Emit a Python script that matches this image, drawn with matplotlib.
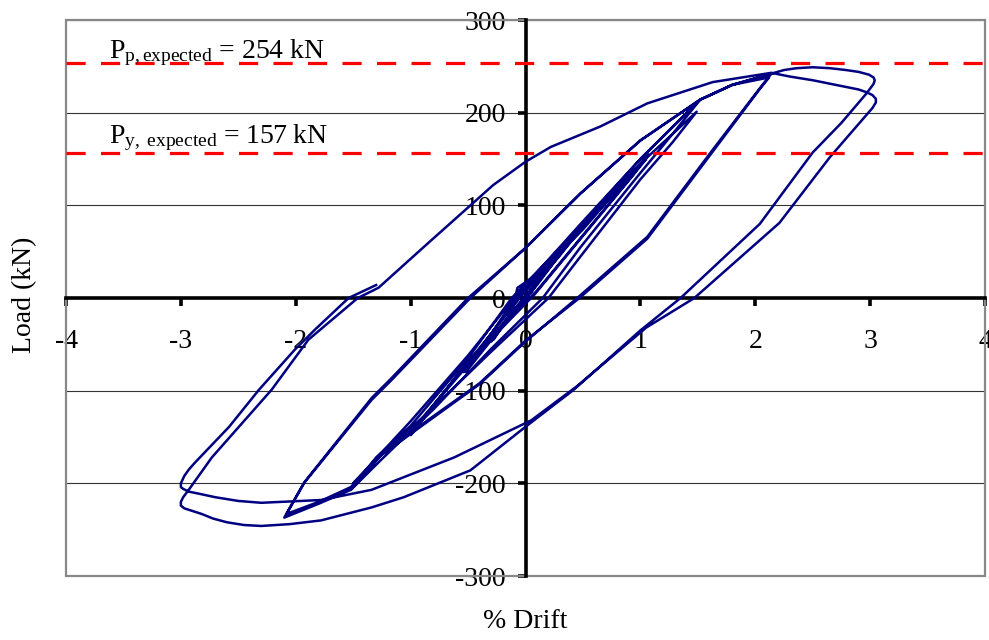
import numpy as np
import matplotlib
matplotlib.use("Agg")
import matplotlib.pyplot as plt
from matplotlib.patches import Rectangle

plt.rcParams['font.family'] = ['Liberation Serif', 'DejaVu Serif']
plt.rcParams['mathtext.fontset'] = 'custom'
plt.rcParams['mathtext.rm'] = 'Liberation Serif'
plt.rcParams['mathtext.it'] = 'Liberation Serif:italic'

# ---- data (drift in %, load in kN) ----
small_drift = [0, 0.12, 0.28, 0.22, 0.05, -0.08, -0.28, -0.22, -0.02, 0.1, 0.27, 0.2, -0.07,
               -0.12, -0.3, -0.2, 0.0, 0.3, 0.55, 0.45, 0.1, -0.2, -0.54, -0.45, -0.05, 0.3,
               0.55, 0.45, 0.05, -0.25, -0.52]
small_load = [0, 20, 50, 38, 6, -10, -45, -33, -2, 16, 47, 34, 11,
              -15, -47, -30, 0, 48, 88, 72, 14, -30, -80, -66, -5, 46,
              85, 70, 8, -38, -80]

one_drift = [-0.52, -0.1, 0.5, 1.07, 0.95, 0.1, -0.5, -1.0, -0.88, -0.05, 0.5, 1.05, 0.92,
             0.08, -0.5, -1.0]
one_load = [-80, -2, 74, 155, 135, 8, -68, -148, -128, 0, 76, 150, 130, 4, -70, -145]

onehalf_drift = [-1.0, -0.5, -0.1, 0.48, 1.0, 1.52, 1.3, 1.0, 0.48, 0.15, -0.3, -0.8, -1.26,
                 -1.52, -1.3, -1.0, -0.5, -0.12, 0.48, 1.0, 1.49, 1.28, 1.0, 0.48, 0.2, -0.3,
                 -0.8, -1.26, -1.5]
onehalf_load = [-145, -72, -5, 78, 150, 214, 180, 135, 55, 0, -55, -120, -175,
                -207, -172, -138, -65, 0, 77, 145, 201, 168, 128, 45, 0, -58,
                -118, -170, -200]

two_drift = [-1.5, -1.0, -0.5, -0.1, 0.48, 1.0, 1.52, 1.8, 2.14, 2.05, 1.63, 1.06, 0.45, 0.0,
             -0.4, -1.26, -1.52, -1.8, -2.1, -2.05, -1.93, -1.34, -1.17, -0.48, 0.0, 0.48,
             1.0, 1.52, 1.8, 2.12, 2.03, 1.63, 1.06, 0.47, 0.0, -0.4, -1.26, -1.52, -1.8,
             -2.08, -2.03, -1.92, -1.34, -1.17, -0.5, 0.0, 0.48, 1.0, 1.52, 1.8, 2.14]
two_load = [-200, -133, -62, 0, 80, 150, 214, 230, 242, 228, 160, 66, 0, -47,
            -93, -170, -207, -222, -237, -226, -200, -110, -89, 0, 54, 113,
            170, 214, 230, 238, 224, 158, 64, 0, -46, -92, -168, -204, -220,
            -233, -222, -198, -108, -87, 0, 54, 113, 170, 214, 230, 242]

three_a_drift = [2.14, 2.25, 2.36, 2.5, 2.65, 2.79, 2.9, 2.99, 3.03, 3.04, 3.03, 3.0, 2.97,
                 2.75, 2.5, 2.04, 1.35, 1.0, 0.42, 0.0, -0.48, -1.06, -1.34, -1.78, -2.05,
                 -2.3, -2.45, -2.6, -2.72, -2.82, -2.92, -2.97, -3.0]
three_a_load = [242, 246, 248, 249, 248, 246, 244, 241, 238, 235, 231, 226, 221,
                189, 157, 80, 0, -35, -99, -139, -186, -215, -226, -240, -244,
                -246, -245, -242, -238, -233, -229, -227, -224]

three_b_drift = [-3.0, -3.0, -2.98, -2.95, -2.92, -2.73, -2.21, -1.89, -1.46, -1.28, -0.85,
                 -0.28, 0.0, 0.22, 0.65, 1.06, 1.63, 2.14, 2.3, 2.5, 2.7, 2.9, 2.97, 3.02,
                 3.05, 3.05, 3.02, 2.65, 2.21, 1.47, 1.05, 0.45, 0.05, -0.62, -1.34, -1.78,
                 -2.3, -2.5, -2.7, -2.85, -2.93, -2.98, -3.0]
three_b_load = [-224, -220, -215, -210, -205, -172, -99, -45, 0, 11, 59,
                122, 147, 163, 185, 210, 233, 243, 239, 235, 230, 225, 222, 219,
                215, 211, 205, 152, 81, 0, -32, -95, -132, -172, -207, -218,
                -221, -219, -215, -211, -209, -206, -204]

three_c_drift = [-3.0, -3.0, -2.97, -2.93, -2.88, -2.58, -2.32, -2.01, -1.84, -1.54, -1.3]
three_c_load = [-204, -200, -192, -185, -178, -139, -99, -56, -35, 0, 14]

p_yield = 157
p_peak = 254
x_ticks = [-4, -3, -2, -1, 0, 1, 2, 3, 4]
y_ticks = [-300, -200, -100, 0, 100, 200, 300]

drift = np.concatenate([small_drift, one_drift, onehalf_drift, two_drift,
                        three_a_drift, three_b_drift, three_c_drift])
load = np.concatenate([small_load, one_load, onehalf_load, two_load,
                       three_a_load, three_b_load, three_c_load])

# ---- figure ----
fig = plt.figure(figsize=(9.89, 6.40), dpi=100)
ax = fig.add_axes([66/989, 1-576/640, (985-66)/989, (576-20)/640])
ax.set_xlim(-4, 4)
ax.set_ylim(-300, 300)

ax.set_yticks(y_ticks)
ax.set_xticks(x_ticks)
ax.yaxis.grid(True, color='#333333', lw=0.8, zorder=0)
ax.set_axisbelow(True)

for s in ['top', 'right']:
    ax.spines[s].set_visible(False)
for s in ['left', 'bottom']:
    ax.spines[s].set_position(('data', 0))
    ax.spines[s].set_color('black')
    ax.spines[s].set_linewidth(2.6)
    ax.spines[s].set_zorder(2.5)

ax.add_patch(Rectangle((0, 0), 1, 1, transform=ax.transAxes, fill=False,
                       edgecolor='#888888', lw=1.6, clip_on=False, zorder=1))

ax.tick_params(axis='x', direction='out', length=6, width=2.6, pad=16,
               labelsize=20, color='black')
ax.tick_params(axis='y', direction='out', length=6, width=2.6, pad=8,
               labelsize=20, color='black')
ax.set_xticklabels([str(t) for t in x_ticks])
ax.set_yticklabels([str(t) for t in y_ticks])

ax.plot(drift, load, color='#000080', lw=1.8, zorder=3, solid_joinstyle='round')

ax.axhline(p_peak, color='#FF0000', lw=2.3, dashes=(6, 4.8), zorder=4)
ax.axhline(p_yield, color='#FF0000', lw=2.3, dashes=(6, 4.8), zorder=4)

ax.text(-3.63, 259, r'P$_{\mathrm{p,expected}}$ = 254 kN', fontsize=20,
        ha='left', va='baseline', zorder=5)
ax.text(-3.63, 167, r'P$_{\mathrm{y,\ expected}}$ = 157 kN', fontsize=20,
        ha='left', va='baseline', zorder=5)

fig.text(25/989, 1-295/640, 'Load (kN)', rotation=90, ha='center', va='center', fontsize=20)
fig.text(525/989, 1-621/640, '% Drift', ha='center', va='center', fontsize=20)

fig.savefig('out.png', dpi=100)
